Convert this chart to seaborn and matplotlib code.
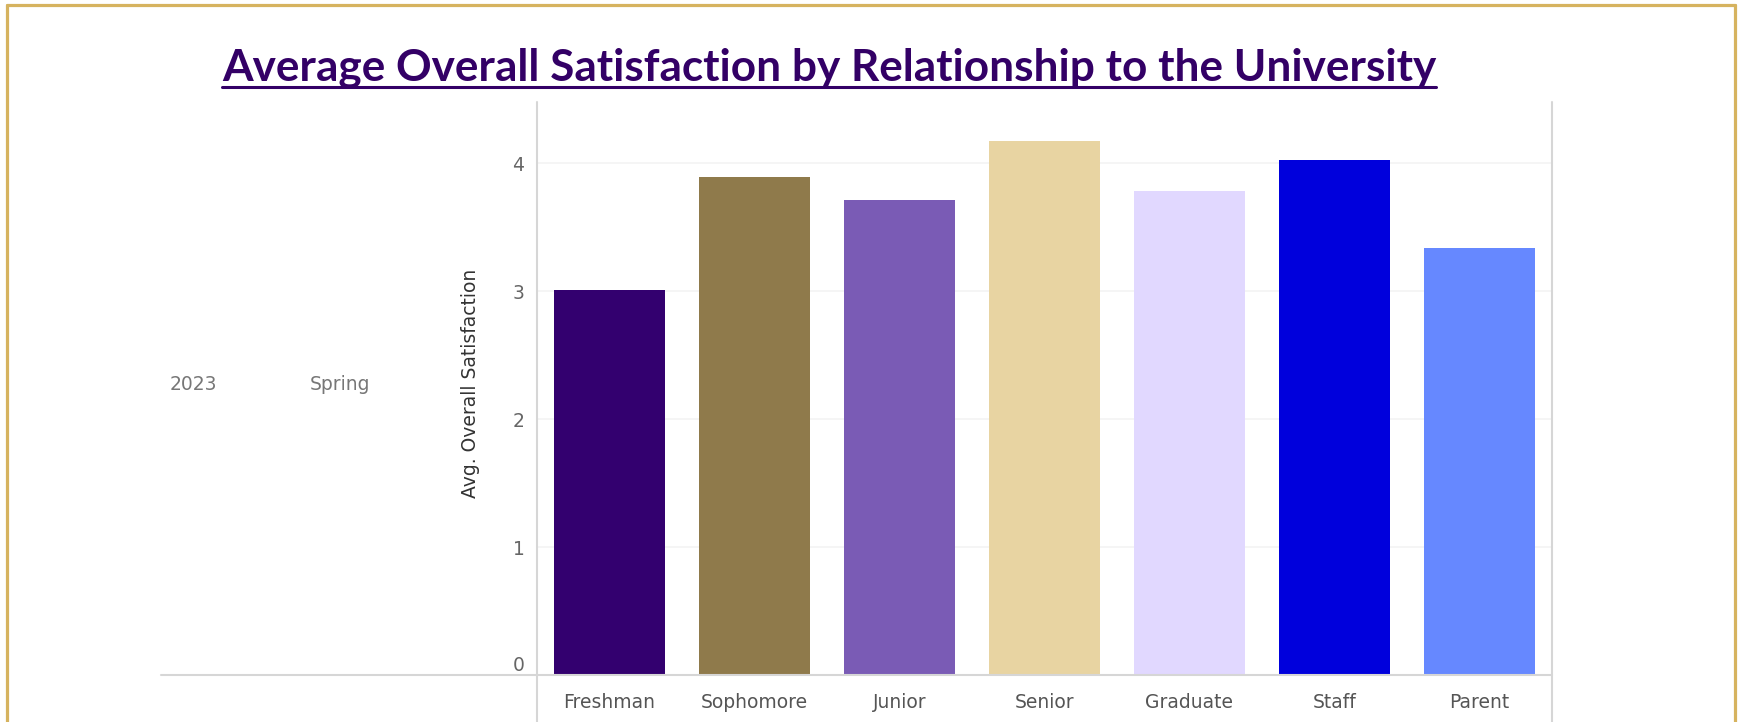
import matplotlib
matplotlib.use("Agg")
import matplotlib.pyplot as plt
from matplotlib.lines import Line2D
import seaborn as sns
import pandas as pd

# Survey results: average overall satisfaction per group
groups = ["Freshman", "Sophomore", "Junior", "Senior", "Graduate", "Staff", "Parent"]
avg_satisfaction = [3.01, 3.89, 3.71, 4.17, 3.78, 4.02, 3.34]
bar_colors = ["#33006F", "#8F7A4B", "#7A5BB5", "#E8D4A2", "#E1D8FF", "#0000DC", "#6688FF"]
year_label = "2023"
term_label = "Spring"
title_text = "Average Overall Satisfaction by Relationship to the University"
y_title = "Avg. Overall Satisfaction"
y_ticks = [0, 1, 2, 3, 4]

W, H = 1742, 722
DPI = 100

sns.set_theme(style="white")
plt.rcParams["font.family"] = ["DejaVu Sans"]

fig = plt.figure(figsize=(W / DPI, H / DPI), dpi=DPI)
fig.patch.set_facecolor("white")


def fx(px):
    return px / W


def fy(py):
    return 1 - py / H


# Plot pane
left_px, right_px, top_px, base_px = 537, 1552, 102, 675
ax = fig.add_axes([fx(left_px), fy(base_px), fx(right_px - left_px), (base_px - top_px) / H])

df = pd.DataFrame({"group": groups, "value": avg_satisfaction})
sns.barplot(data=df, x="group", y="value", hue="group", palette=bar_colors,
            order=groups, hue_order=groups, width=0.76, legend=False,
            saturation=1, ax=ax, edgecolor="none")

ax.set_xlim(-0.5, len(groups) - 0.5)
ax.set_ylim(0, 4.477)
ax.set_yticks(y_ticks)
ax.set_yticklabels([str(t) for t in y_ticks])
ax.set_xlabel("")
ax.set_ylabel("")

for s in ax.spines.values():
    s.set_visible(False)

ax.yaxis.grid(True, color="#f3f3f3", linewidth=1.2)
ax.set_axisbelow(True)
ax.tick_params(axis="y", length=0, pad=9, labelsize=13.5, labelcolor="#666666")
ax.tick_params(axis="x", which="major", length=0, pad=13, labelsize=13.5, labelcolor="#555555")
ax.set_xticks([i + 0.5 for i in range(len(groups) - 1)], minor=True)
ax.tick_params(axis="x", which="minor", length=5, width=1, color="#e4e4e4", direction="out")

# The zero label sits just above the baseline
ax.get_yticklabels()[0].set_va("bottom")

# Pane dividers
line_c = "#d6d6d6"
lw = 1.5
fig.add_artist(Line2D([fx(left_px), fx(left_px)], [fy(top_px), 0], color=line_c, lw=lw))
fig.add_artist(Line2D([fx(right_px), fx(right_px)], [fy(top_px), 0], color=line_c, lw=lw))
fig.add_artist(Line2D([fx(161), fx(right_px)], [fy(base_px), fy(base_px)], color=line_c, lw=lw))

# Row headers
fig.text(fx(170), fy(384), year_label, ha="left", va="center", fontsize=13.5, color="#777777")
fig.text(fx(310), fy(384), term_label, ha="left", va="center", fontsize=13.5, color="#777777")

# Axis title
fig.text(fx(470), fy(383), y_title, rotation=90, ha="center", va="center",
         fontsize=13.5, color="#333333")

# Title with underline, sized to span its width
title_color = "#330066"
t = fig.text(fx(829), fy(81), title_text, ha="center", va="baseline",
             fontsize=30, fontweight="bold", color=title_color, family=["Lato", "DejaVu Sans"])
renderer = fig.canvas.get_renderer()
bb = t.get_window_extent(renderer)
t.set_fontsize(30 * 1214 / bb.width)
bb = t.get_window_extent(renderer)
fig.add_artist(Line2D([bb.x0 / W, bb.x1 / W], [fy(87), fy(87)], color=title_color, lw=2.2))

# Frame around the dashboard
gold = "#D6B35F"
fig.add_artist(Line2D([fx(7), fx(7)], [0, fy(5)], color=gold, lw=2.3))
fig.add_artist(Line2D([fx(7), fx(1735)], [fy(5), fy(5)], color=gold, lw=2.3))
fig.add_artist(Line2D([fx(1735), fx(1735)], [fy(5), 0], color=gold, lw=2.3))

fig.savefig("out.png", dpi=DPI, facecolor="white")
